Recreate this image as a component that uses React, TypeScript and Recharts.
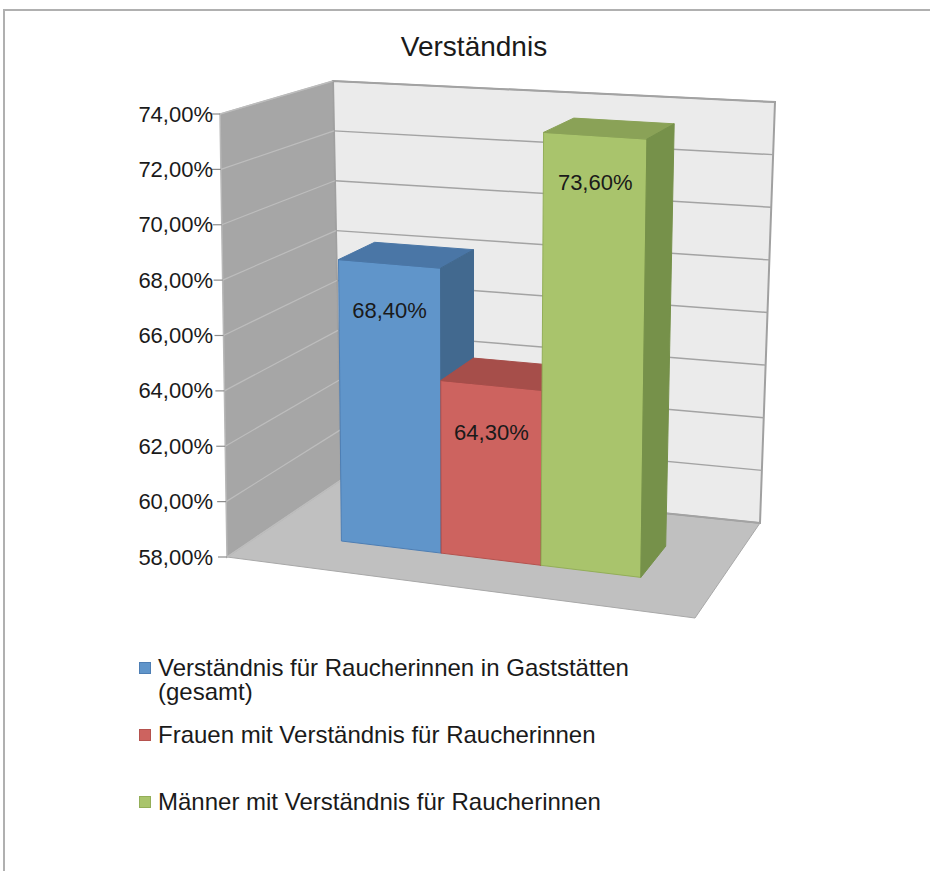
import React from 'react';
import { BarChart, Bar, XAxis, YAxis, CartesianGrid, Legend, LabelList } from 'recharts';

// ---------- data ----------
const chartTitle = 'Verständnis';
const categories = ['Verständnis'];
const seriesKeys = ['gesamt', 'frauen', 'maenner'];
const seriesNames = [
  'Verständnis für Raucherinnen in Gaststätten (gesamt)',
  'Frauen mit Verständnis für Raucherinnen',
  'Männer mit Verständnis für Raucherinnen',
];
const seriesValues = [68.4, 64.3, 73.6];
const yTicks = [58, 60, 62, 64, 66, 68, 70, 72, 74];

const data = categories.map((c) => {
  const row: any = { name: c };
  seriesKeys.forEach((k, i) => {
    row[k] = seriesValues[i];
  });
  return row;
});

// ---------- styles ----------
const FONT = '"Liberation Sans", Arial, sans-serif';
const TEXT = '#1a1a1a';
const palette = [
  { front: '#6095CA', top: '#4A76A6', side: '#42698F', edge: '#4D7EB4' },
  { front: '#CD635F', top: '#A64E4A', side: '#93443F', edge: '#B5524E' },
  { front: '#A9C46C', top: '#8AA257', side: '#76914A', edge: '#93AE58' },
];

// flat plot area used by Recharts
const PLOT_LEFT = 220;
const PLOT_W = 480;
const PLOT_TOP = 114;
const PLOT_BOTTOM = 557;
const CH_W = 930;
const CH_H = 871;

// 3D box projection (u: across, v: value, w: depth)
type Pt = [number, number];
const FBL: Pt = [227, 557];
const FBR: Pt = [695, 618];
const BBL: Pt = [341, 480];
const BBR: Pt = [760, 523];
const FTL: Pt = [220, 114];
const FTR: Pt = [701, 148];
const BTL: Pt = [333, 81];
const BTR: Pt = [775, 102];
const W0 = 0.33;
const W1 = 0.67;

const bil = (a: Pt, b: Pt, c: Pt, d: Pt, u: number, w: number): Pt => [
  a[0] * (1 - u) * (1 - w) + b[0] * u * (1 - w) + c[0] * (1 - u) * w + d[0] * u * w,
  a[1] * (1 - u) * (1 - w) + b[1] * u * (1 - w) + c[1] * (1 - u) * w + d[1] * u * w,
];
const P = (u: number, v: number, w: number): Pt => {
  const b = bil(FBL, FBR, BBL, BBR, u, w);
  const t = bil(FTL, FTR, BTL, BTR, u, w);
  return [b[0] + (t[0] - b[0]) * v, b[1] + (t[1] - b[1]) * v];
};
const toU = (x: number) => (x - PLOT_LEFT) / PLOT_W;
const toV = (y: number) => (PLOT_BOTTOM - y) / (PLOT_BOTTOM - PLOT_TOP);
const pts = (arr: Pt[]) => arr.map((p) => `${p[0].toFixed(1)},${p[1].toFixed(1)}`).join(' ');
const fmt = (v: number) => `${Number(v).toFixed(2).replace('.', ',')}%`;

const Walls = () => (
  <g>
    <polygon points={pts([P(0, 0, 0), P(1, 0, 0), P(1, 0, 1), P(0, 0, 1)])} fill="#C0C0C0" stroke="#a8a8a8" strokeWidth={1} />
    <polygon points={pts([P(0, 0, 0), P(0, 1, 0), P(0, 1, 1), P(0, 0, 1)])} fill="#A6A6A6" stroke="#b8b8b8" strokeWidth={1.5} />
    <polygon points={pts([P(0, 0, 1), P(1, 0, 1), P(1, 1, 1), P(0, 1, 1)])} fill="#EBEBEB" stroke="#a0a0a0" strokeWidth={2} />
  </g>
);

const GridLine = (props: any) => {
  const { y1, index } = props;
  const v = toV(y1);
  const a = P(0, v, 0);
  const b = P(0, v, 1);
  const c = P(1, v, 1);
  return (
    <g key={`gl-${index}`}>
      {index === 0 ? <Walls /> : null}
      <line x1={a[0]} y1={a[1]} x2={b[0]} y2={b[1]} stroke="#bdbdbd" strokeWidth={1.2} />
      <line x1={b[0]} y1={b[1]} x2={c[0]} y2={c[1]} stroke="#a3a3a3" strokeWidth={1.5} />
    </g>
  );
};

const AxisTick = (props: any) => {
  const { y, payload } = props;
  const v = toV(y);
  const p = P(0, v, 0);
  return (
    <g>
      <line x1={p[0] - 9} y1={p[1]} x2={p[0]} y2={p[1]} stroke="#8c8c8c" strokeWidth={1.2} />
      <text x={213} y={p[1]} textAnchor="end" dominantBaseline="central" fontFamily={FONT} fontSize={22} fill={TEXT}>
        {fmt(payload.value)}
      </text>
    </g>
  );
};

const makeShape = (idx: number) => (props: any) => {
  const { x, y, width, height } = props;
  const c = palette[idx];
  const u0 = toU(x);
  const u1 = toU(x + width);
  const vt = toV(y);
  const vb = Math.max(0, toV(y + height));
  return (
    <g>
      <polygon points={pts([P(u0, vb, W0), P(u1, vb, W0), P(u1, vt, W0), P(u0, vt, W0)])} fill={c.front} stroke={c.edge} strokeWidth={1} />
      <polygon points={pts([P(u0, vt, W0), P(u1, vt, W0), P(u1, vt, W1), P(u0, vt, W1)])} fill={c.top} stroke={c.top} strokeWidth={1} />
      <polygon points={pts([P(u1, vb, W0), P(u1, vb, W1), P(u1, vt, W1), P(u1, vt, W0)])} fill={c.side} stroke={c.side} strokeWidth={1} />
    </g>
  );
};

const ValueLabel = (props: any) => {
  const vb = props.viewBox || {};
  const x = props.x ?? vb.x;
  const y = props.y ?? vb.y;
  const width = props.width ?? vb.width;
  const p = P(toU(x + width / 2), toV(y), W0);
  return (
    <text x={p[0]} y={p[1] + 47} textAnchor="middle" dominantBaseline="central" fontFamily={FONT} fontSize={22} fill={TEXT}>
      {fmt(props.value)}
    </text>
  );
};

const legendGaps = [0, 19, 43];
const LegendContent = (props: any) => {
  const payload = [...(props.payload || [])].sort(
    (a: any, b: any) => seriesNames.indexOf(a.value) - seriesNames.indexOf(b.value)
  );
  return (
    <div style={{ fontFamily: FONT, fontSize: 24, lineHeight: '24px', color: TEXT, textAlign: 'left' }}>
      {payload.map((e: any, i: number) => {
        const si = seriesNames.indexOf(e.value);
        return (
          <div key={`li-${i}`} style={{ display: 'flex', alignItems: 'flex-start', marginTop: legendGaps[i] || 0 }}>
            <span
              style={{
                width: 12,
                height: 12,
                marginTop: 6,
                marginRight: 7,
                flex: 'none',
                background: e.color,
                boxSizing: 'border-box',
                border: `1px solid ${palette[si] ? palette[si].edge : e.color}`,
              }}
            />
            <span style={{ width: 520 }}>{e.value}</span>
          </div>
        );
      })}
    </div>
  );
};

export default function App() {
  return (
    <div style={{ position: 'absolute', left: 0, top: 0, width: CH_W, height: CH_H, background: '#fff', overflow: 'hidden' }}>
      <div
        style={{
          position: 'absolute',
          left: 3,
          top: 9,
          width: CH_W - 3,
          height: CH_H - 9,
          boxSizing: 'border-box',
          borderTop: '2px solid #b0b0b0',
          borderLeft: '2px solid #b0b0b0',
        }}
      />
      <div
        style={{
          position: 'absolute',
          left: 0,
          top: 30,
          width: 948,
          textAlign: 'center',
          fontFamily: FONT,
          fontSize: 28,
          color: TEXT,
          lineHeight: '34px',
        }}
      >
        {chartTitle}
      </div>
      <div style={{ position: 'absolute', left: 0, top: 0 }}>
        <BarChart
          width={CH_W}
          height={CH_H}
          data={data}
          margin={{ top: PLOT_TOP, right: CH_W - PLOT_LEFT - PLOT_W, bottom: CH_H - PLOT_BOTTOM, left: 0 }}
          barCategoryGap="17%"
          barGap={0}
        >
          <CartesianGrid horizontal={GridLine} vertical={false} />
          <XAxis dataKey="name" hide />
          <YAxis
            type="number"
            domain={[58, 74]}
            ticks={yTicks}
            width={PLOT_LEFT}
            axisLine={false}
            tickLine={false}
            tick={AxisTick}
            interval={0}
          />
          <Legend
            layout="vertical"
            align="center"
            verticalAlign="middle"
            content={LegendContent}
            wrapperStyle={{ position: 'absolute', left: 139, top: 656, width: 600, height: 170 }}
          />
          {seriesKeys.map((k, i) => (
            <Bar key={k} dataKey={k} name={seriesNames[i]} fill={palette[i].front} shape={makeShape(i)} isAnimationActive={false}>
              <LabelList dataKey={k} content={ValueLabel} />
            </Bar>
          ))}
        </BarChart>
      </div>
    </div>
  );
}
